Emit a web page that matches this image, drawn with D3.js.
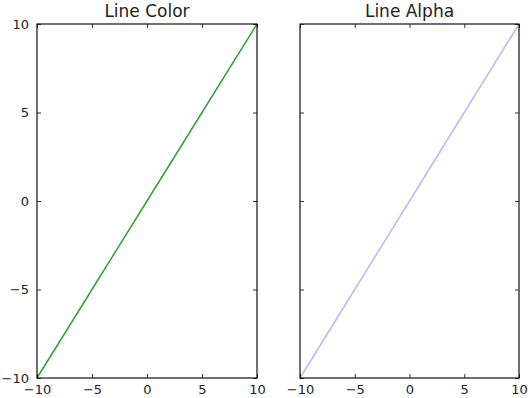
<!DOCTYPE html>
<html>
<head>
<meta charset="utf-8">
<script src="https://cdn.jsdelivr.net/npm/d3@7"></script>
<style>
  body { margin: 0; background: #fff; }
  text { font-family: "DejaVu Sans", sans-serif; fill: #222; }
</style>
</head>
<body>
<div id="chart"></div>
<script>
// data
var titles = ["Line Color", "Line Alpha"];
var xs = [-10, -5, 0, 5, 10];
var ys = [-10, -5, 0, 5, 10];
var tickVals = [-10, -5, 0, 5, 10];
var lineColors = ["#33a033", "#0000ff"];
var lineAlpha = [1, 0.28];

var width = 528, height = 398;
var top_ = 24, bottom = 378;
var panels = [{ left: 37, right: 257 }, { left: 300, right: 519 }];

var svg = d3.select('#chart').append('svg')
  .attr('width', width)
  .attr('height', height);

var y = d3.scaleLinear().domain([-10, 10]).range([bottom, top_]);

function fmt(d) { return d < 0 ? '\u2212' + Math.abs(d) : d; }

panels.forEach(function (p, i) {
  var x = d3.scaleLinear().domain([-10, 10]).range([p.left, p.right]);
  var g = svg.append('g');

  var line = d3.line()
    .x(function (d, j) { return x(xs[j]); })
    .y(function (d) { return y(d); });

  g.append('path')
    .datum(ys)
    .attr('d', line)
    .attr('fill', 'none')
    .attr('stroke', lineColors[i])
    .attr('stroke-opacity', lineAlpha[i])
    .attr('stroke-width', 1.5);

  // ticks inside on all sides (classic style)
  var tl = 4;
  // bottom
  g.append('g').attr('transform', 'translate(0,' + bottom + ')')
    .call(d3.axisBottom(x).tickValues(tickVals).tickSizeInner(-tl).tickSizeOuter(0).tickPadding(7).tickFormat(fmt))
    .call(function (a) { a.select('.domain').remove(); a.selectAll('line').attr('stroke', '#333'); a.selectAll('text').attr('font-size', 13).style('fill', '#222'); });
  // top
  g.append('g').attr('transform', 'translate(0,' + top_ + ')')
    .call(d3.axisTop(x).tickValues(tickVals).tickSizeInner(-tl).tickSizeOuter(0).tickFormat(''))
    .call(function (a) { a.select('.domain').remove(); a.selectAll('line').attr('stroke', '#333'); });
  // left
  var leftAxis = d3.axisLeft(y).tickValues(tickVals).tickSizeInner(-tl).tickSizeOuter(0).tickPadding(8);
  if (i == 0) leftAxis.tickFormat(fmt);
  else leftAxis.tickFormat('');
  g.append('g').attr('transform', 'translate(' + p.left + ',0)')
    .call(leftAxis)
    .call(function (a) { a.select('.domain').remove(); a.selectAll('line').attr('stroke', '#333'); a.selectAll('text').attr('font-size', 13).style('fill', '#222'); });
  // right
  g.append('g').attr('transform', 'translate(' + p.right + ',0)')
    .call(d3.axisRight(y).tickValues(tickVals).tickSizeInner(-tl).tickSizeOuter(0).tickFormat(''))
    .call(function (a) { a.select('.domain').remove(); a.selectAll('line').attr('stroke', '#333'); });

  // frame
  g.append('rect')
    .attr('x', p.left).attr('y', top_)
    .attr('width', p.right - p.left).attr('height', bottom - top_)
    .attr('fill', 'none').attr('stroke', '#111').attr('stroke-width', 1.2);

  g.append('text')
    .attr('x', (p.left + p.right) / 2)
    .attr('y', 17)
    .attr('text-anchor', 'middle')
    .attr('font-size', 17)
    .text(titles[i]);
});
</script>
</body>
</html>
